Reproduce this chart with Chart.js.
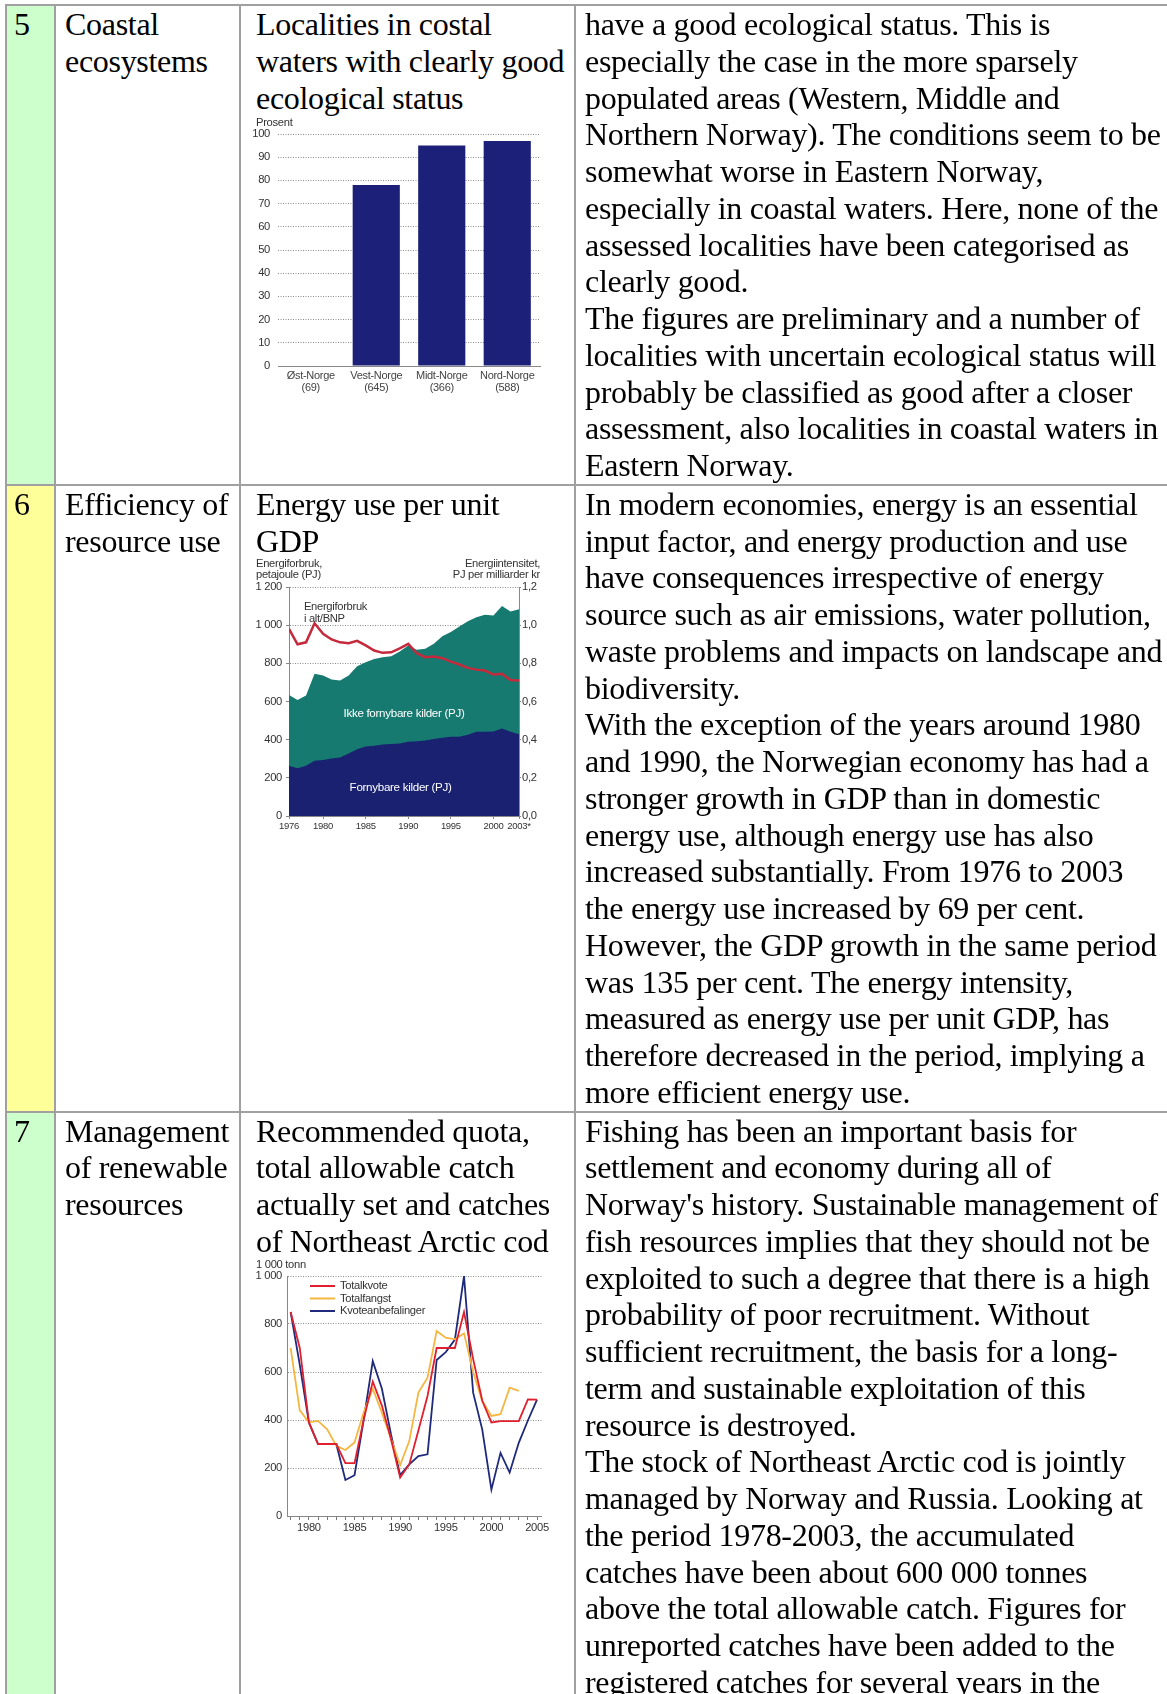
<!DOCTYPE html>
<html>
<head>
<meta charset="utf-8">
<script src="https://cdn.jsdelivr.net/npm/chart.js@4.4.1/dist/chart.umd.min.js"></script>
<style>
  html, body { margin: 0; padding: 0; overflow: hidden; background: #fff; }
  table {
    margin: 4px 0 0 5px;
    border-spacing: 0;
    border-left: 2px solid #a0a0a0;
    border-top: 2px solid #a0a0a0;
    table-layout: fixed;
    width: 1165px;
    font-family: "Liberation Serif", "Times New Roman", serif;
    font-size: 32px;
    line-height: 36.75px;
    color: #000;
  }
  td {
    border-right: 2px solid #a0a0a0;
    border-bottom: 2px solid #a0a0a0;
    vertical-align: top;
    padding: 0;
    white-space: nowrap;
    letter-spacing: -0.3px;
  }
  td.n { padding-left: 7px; width: 40px; }
  td.t { padding-left: 9px; width: 174px; }
  td.c { padding-left: 15px; width: 318px; }
  td.x { padding-left: 9px; width: 583px; }
  .green { background: #ccffcc; }
  .yellow { background: #ffff99; }
  canvas { display: block; margin-left: -6px; }
</style>
</head>
<body>
<table>
  <tr>
    <td class="n green">5</td>
    <td class="t">Coastal<br>ecosystems</td>
    <td class="c">Localities in costal<br>waters with clearly good<br>ecological status<canvas id="coastChart" width="300" height="284"></canvas></td>
    <td class="x">have a good ecological status. This is<br>especially the case in the more sparsely<br>populated areas (Western, Middle and<br>Northern Norway). The conditions seem to be<br>somewhat worse in Eastern Norway,<br>especially in coastal waters. Here, none of the<br>assessed localities have been categorised as<br>clearly good.<br>The figures are preliminary and a number of<br>localities with uncertain ecological status will<br>probably be classified as good after a closer<br>assessment, also localities in coastal waters in<br>Eastern Norway.</td>
  </tr>
  <tr>
    <td class="n yellow">6</td>
    <td class="t">Efficiency of<br>resource use</td>
    <td class="c">Energy use per unit<br>GDP<canvas id="energyChart" width="300" height="285"></canvas></td>
    <td class="x">In modern economies, energy is an essential<br>input factor, and energy production and use<br>have consequences irrespective of energy<br>source such as air emissions, water pollution,<br>waste problems and impacts on landscape and<br>biodiversity.<br>With the exception of the years around 1980<br>and 1990, the Norwegian economy has had a<br>stronger growth in GDP than in domestic<br>energy use, although energy use has also<br>increased substantially. From 1976 to 2003<br>the energy use increased by 69 per cent.<br>However, the GDP growth in the same period<br>was 135 per cent. The energy intensity,<br>measured as energy use per unit GDP, has<br>therefore decreased in the period, implying a<br>more efficient energy use.</td>
  </tr>
  <tr>
    <td class="n green">7</td>
    <td class="t">Management<br>of renewable<br>resources</td>
    <td class="c">Recommended quota,<br>total allowable catch<br>actually set and catches<br>of Northeast Arctic cod<canvas id="codChart" width="300" height="282"></canvas></td>
    <td class="x">Fishing has been an important basis for<br>settlement and economy during all of<br>Norway's history. Sustainable management of<br>fish resources implies that they should not be<br>exploited to such a degree that there is a high<br>probability of poor recruitment. Without<br>sufficient recruitment, the basis for a long-<br>term and sustainable exploitation of this<br>resource is destroyed.<br>The stock of Northeast Arctic cod is jointly<br>managed by Norway and Russia. Looking at<br>the period 1978-2003, the accumulated<br>catches have been about 600 000 tonnes<br>above the total allowable catch. Figures for<br>unreported catches have been added to the<br>registered catches for several years in the</td>
  </tr>
</table>

<script>
// chart 5: coastal localities with clearly good status
const regions = [["Øst-Norge", "(69)"], ["Vest-Norge", "(645)"], ["Midt-Norge", "(366)"], ["Nord-Norge", "(588)"]];
const goodStatusPct = [0, 78, 95, 97];

// chart 6: energy use and energy intensity
const energyYears = [1976, 1977, 1978, 1979, 1980, 1981, 1982, 1983, 1984, 1985, 1986, 1987, 1988, 1989,
  1990, 1991, 1992, 1993, 1994, 1995, 1996, 1997, 1998, 1999, 2000, 2001, 2002, 2003];
const totalPJ = [634, 608, 631, 745, 736, 715, 710, 736, 785, 806, 823, 832, 837, 862,
  893, 871, 876, 902, 942, 964, 993, 1021, 1042, 1055, 1051, 1100, 1072, 1083];
const renewablePJ = [263, 250, 263, 289, 294, 301, 307, 328, 350, 364, 368, 375, 377, 380,
  389, 392, 396, 403, 410, 415, 415, 426, 441, 441, 443, 459, 441, 429];
const intensity = [0.98, 0.90, 0.91, 1.01, 0.955, 0.925, 0.91, 0.905, 0.918, 0.894, 0.867, 0.855, 0.858, 0.879,
  0.902, 0.853, 0.832, 0.836, 0.827, 0.809, 0.794, 0.776, 0.767, 0.762, 0.741, 0.745, 0.713, 0.71];
const energyYearTicks = [1976, 1980, 1985, 1990, 1995, 2000, 2003];

// chart 7: Northeast Arctic cod, 1 000 tonnes
const codYears = [1978, 1979, 1980, 1981, 1982, 1983, 1984, 1985, 1986, 1987, 1988, 1989, 1990, 1991,
  1992, 1993, 1994, 1995, 1996, 1997, 1998, 1999, 2000, 2001, 2002, 2003, 2004, 2005];
const totalQuota = [850, 700, 390, 300, 300, 300, 220, 220, 400, 560, 460, 320, 160, 215,
  356, 500, 700, 700, 700, 850, 654, 480, 390, 395, 395, 395, 486, 485];
const totalCatch = [700, 440, 390, 396, 361, 292, 275, 306, 431, 530, 430, 322, 212, 312,
  514, 576, 771, 743, 736, 761, 600, 479, 417, 424, 535, 521];
const recommendedQuota = [850, 630, 390, 300, 300, 300, 150, 170, 400, 645, 530, 340, 170, 215,
  250, 257, 650, 683, 735, 1000, 514, 360, 110, 263, 181, 305, 398, 485];

const sans = '"Liberation Sans", Arial, Helvetica, sans-serif';
Chart.defaults.font.family = sans;
Chart.defaults.font.size = 11.2;
Chart.defaults.color = "#333";

// free text on the canvas: pixel position, or data position through the scales
const notesPlugin = {
  id: "notes",
  afterDraw(chart, args, opts) {
    const ctx = chart.ctx;
    (opts.items || []).forEach(it => {
      let x = it.x, y = it.y;
      if (it.xv !== undefined) {
        x = chart.scales.x.getPixelForValue(it.xv);
        y = chart.scales.y.getPixelForValue(it.yv);
      }
      ctx.save();
      ctx.font = (it.size || 11.2) + "px " + sans;
      ctx.fillStyle = it.color || "#333";
      ctx.textAlign = it.align || "left";
      ctx.textBaseline = "middle";
      ctx.fillText(it.text, x, y);
      ctx.restore();
    });
  }
};

// stacked legend inside the plot
const lineLegend = {
  id: "lineLegend",
  afterDraw(chart, args, opts) {
    const ctx = chart.ctx;
    chart.data.datasets.forEach((ds, i) => {
      const y = opts.top + i * opts.gap;
      ctx.save();
      ctx.strokeStyle = ds.borderColor;
      ctx.lineWidth = 2;
      ctx.beginPath();
      ctx.moveTo(opts.left, y);
      ctx.lineTo(opts.left + 25, y);
      ctx.stroke();
      ctx.fillStyle = "#333";
      ctx.font = "11.2px " + sans;
      ctx.textBaseline = "middle";
      ctx.fillText(ds.label, opts.left + 30, y);
      ctx.restore();
    });
  }
};

const spaced = v => String(v).replace(/\B(?=(\d{3})+(?!\d))/g, " ");
const dotted = [1, 1.5];

new Chart(document.getElementById("coastChart"), {
  type: "bar",
  data: {
    labels: regions,
    datasets: [{
      data: goodStatusPct,
      backgroundColor: "#1c2079",
      barPercentage: 0.72,
      categoryPercentage: 1
    }]
  },
  options: {
    responsive: false,
    animation: false,
    layout: { padding: { top: 18, right: 10, left: 0, bottom: 0 } },
    plugins: {
      legend: { display: false },
      tooltip: { enabled: false },
      notes: { items: [{ text: "Prosent", x: 6, y: 6.5 }] }
    },
    scales: {
      x: {
        grid: { display: false, drawTicks: false },
        border: { color: "#888" },
        ticks: { color: "#444", padding: 4, maxRotation: 0, autoSkip: false, font: { size: 11, lineHeight: 1.08 } },
        afterFit: s => { s.height = 34; }
      },
      y: {
        min: 0,
        max: 100,
        ticks: { stepSize: 10, padding: 8 },
        grid: { color: "#8a8a8a", drawTicks: false },
        border: { display: false, dash: dotted },
        afterFit: s => { s.width = 28; }
      }
    }
  },
  plugins: [notesPlugin]
});

new Chart(document.getElementById("energyChart"), {
  type: "line",
  data: {
    datasets: [
      {
        label: "Energiforbruk i alt/BNP",
        data: energyYears.map((yr, i) => ({ x: yr, y: intensity[i] })),
        yAxisID: "y1",
        borderColor: "#c42a3c",
        borderWidth: 2.5,
        pointRadius: 0,
        fill: false,
        order: 0
      },
      {
        label: "Fornybare kilder (PJ)",
        data: energyYears.map((yr, i) => ({ x: yr, y: renewablePJ[i] })),
        yAxisID: "y",
        borderWidth: 0,
        pointRadius: 0,
        backgroundColor: "#1a2171",
        fill: "origin",
        order: 1
      },
      {
        label: "Ikke fornybare kilder (PJ)",
        data: energyYears.map((yr, i) => ({ x: yr, y: totalPJ[i] })),
        yAxisID: "y",
        borderWidth: 0,
        pointRadius: 0,
        backgroundColor: "#167a70",
        fill: "origin",
        order: 2
      }
    ]
  },
  options: {
    responsive: false,
    animation: false,
    layout: { padding: { top: 28, right: 0, left: 0, bottom: 0 } },
    plugins: {
      legend: { display: false },
      tooltip: { enabled: false },
      notes: {
        items: [
          { text: "Energiforbruk,", x: 6, y: 5 },
          { text: "petajoule (PJ)", x: 6, y: 16 },
          { text: "Energiintensitet,", x: 290, y: 5, align: "right" },
          { text: "PJ per milliarder kr", x: 290, y: 16, align: "right" },
          { text: "Energiforbruk", xv: 1977.75, yv: 1095 },
          { text: "i alt/BNP", xv: 1977.75, yv: 1032 },
          { text: "Ikke fornybare kilder (PJ)", xv: 1989.5, yv: 533, size: 11.6, align: "center", color: "#fff" },
          { text: "Fornybare kilder (PJ)", xv: 1989.1, yv: 150, size: 11.6, align: "center", color: "#fff" }
        ]
      }
    },
    scales: {
      x: {
        type: "linear",
        min: 1976,
        max: 2003,
        afterBuildTicks: s => { s.ticks = energyYearTicks.map(v => ({ value: v })); },
        ticks: { padding: 2, font: { size: 9.5 }, callback: v => (v === 2003 ? "2003*" : String(v)) },
        grid: { drawOnChartArea: false, tickLength: 3, tickColor: "#888" },
        border: { color: "#888" },
        afterFit: s => { s.height = 28; }
      },
      y: {
        position: "left",
        min: 0,
        max: 1200,
        ticks: { stepSize: 200, padding: 4, callback: v => spaced(v) },
        grid: { color: "#8a8a8a", tickLength: 3, tickColor: "#888", tickBorderDash: [] },
        border: { color: "#888", dash: dotted },
        afterFit: s => { s.width = 39; }
      },
      y1: {
        position: "right",
        min: 0,
        max: 1.2,
        ticks: { stepSize: 0.2, padding: 1, callback: v => v.toFixed(1).replace(".", ",") },
        grid: { drawOnChartArea: false, tickLength: 2, tickColor: "#888" },
        border: { color: "#888" },
        afterFit: s => { s.width = 31; }
      }
    }
  },
  plugins: [notesPlugin]
});

new Chart(document.getElementById("codChart"), {
  type: "line",
  data: {
    datasets: [
      {
        label: "Totalkvote",
        data: codYears.map((yr, i) => ({ x: yr, y: totalQuota[i] })),
        borderColor: "#e0202c",
        borderWidth: 1.8,
        pointRadius: 0
      },
      {
        label: "Totalfangst",
        data: totalCatch.map((v, i) => ({ x: codYears[i], y: v })),
        borderColor: "#f5b640",
        borderWidth: 1.8,
        pointRadius: 0
      },
      {
        label: "Kvoteanbefalinger",
        data: codYears.map((yr, i) => ({ x: yr, y: recommendedQuota[i] })),
        borderColor: "#1f2a7c",
        borderWidth: 1.8,
        pointRadius: 0
      }
    ]
  },
  options: {
    responsive: false,
    animation: false,
    layout: { padding: { top: 16, right: 8, left: 0, bottom: 0 } },
    plugins: {
      legend: { display: false },
      tooltip: { enabled: false },
      lineLegend: { left: 60, top: 26, gap: 12.5 },
      notes: { items: [{ text: "1 000 tonn", x: 6, y: 5 }] }
    },
    scales: {
      x: {
        type: "linear",
        min: 1977.6,
        max: 2005.5,
        afterBuildTicks: s => { s.ticks = codYears.map(v => ({ value: v })); },
        ticks: { padding: 1, autoSkip: false, maxRotation: 0, callback: v => (v % 5 === 0 ? String(v) : "") },
        grid: { drawOnChartArea: false, tickLength: 4, tickColor: "#777" },
        border: { color: "#888" },
        afterFit: s => { s.height = 26; }
      },
      y: {
        min: 0,
        max: 1000,
        ticks: { stepSize: 200, padding: 5, callback: v => spaced(v) },
        grid: { color: "#8a8a8a", drawTicks: false },
        border: { color: "#888", dash: dotted },
        afterFit: s => { s.width = 37; }
      }
    }
  },
  plugins: [notesPlugin, lineLegend]
});
</script>
</body>
</html>
